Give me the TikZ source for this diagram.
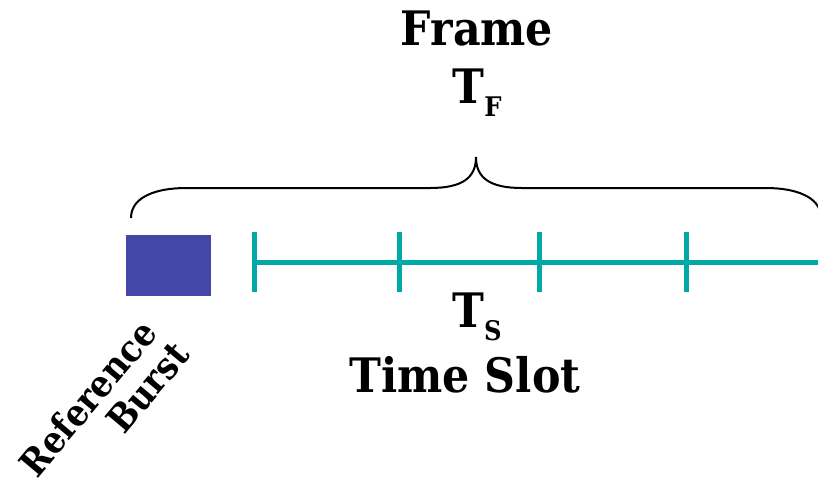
\documentclass[tikz,border=0pt]{standalone}
\usepackage{fontspec}
\newfontfamily\lblfont{DejaVu Serif Condensed}[BoldFont={DejaVu Serif Condensed Bold}]
\definecolor{slotteal}{HTML}{00A9A5}
\definecolor{burstblue}{HTML}{4447A7}
\tikzset{
  lbl/.style={font=\lblfont\bfseries\fontsize{47.5}{52}\selectfont, inner sep=0pt, anchor=base},
  burstlbl/.style={font=\lblfont\bfseries\fontsize{37}{40}\selectfont, inner sep=0pt, rotate=50},
  slotline/.style={draw=slotteal, line width=5pt},
  brace/.style={draw=black, line width=2pt},
}
\newcommand{\subsc}[1]{\raisebox{-13pt}{\fontsize{27}{27}\selectfont #1}}
\begin{document}
\begin{tikzpicture}[x=1pt,y=-1pt]
  \useasboundingbox (0,0) rectangle (818,480);
  \clip (0,0) rectangle (818,480);

  % reference burst block
  \node[fill=burstblue, minimum width=85pt, minimum height=61pt, inner sep=0pt] (burst) at (168.5,265.5) {};

  % time axis and slot boundaries
  \coordinate (axisL) at (252,262);
  \coordinate (axisR) at (820,262);
  \draw[slotline] (axisL) -- (axisR);
  \foreach \x/\n in {254/t0,399/t1,539/t2,686/t3}{
    \coordinate (\n top) at (\x,232);
    \coordinate (\n bot) at (\x,292);
    \draw[slotline] (\n top) -- (\n bot);
  }

  % curly brace spanning the frame
  \coordinate (bL) at (131,218);
  \coordinate (bTip) at (476,157);
  \coordinate (bR) at (821,218);
  \draw[brace] (bL) .. controls (131,196) and (158,188) .. (186,188)
    -- (430,188) .. controls (462,188) and (476,178) .. (bTip)
    .. controls (476,178) and (490,188) .. (522,188)
    -- (766,188) .. controls (794,188) and (821,196) .. (bR);

  % labels
  \node[lbl] (frame) at (477,45) {Frame};
  \node[lbl] (tf) at (477,103) {T\subsc{F}};
  \node[lbl] (ts) at (477,327) {T\subsc{S}};
  \node[lbl] (slot) at (465,392) {Time Slot};
  \node[burstlbl] (reflbl) at (87.5,398) {Reference};
  \node[burstlbl] (burstword) at (147.5,387.5) {Burst};
\end{tikzpicture}
\end{document}
